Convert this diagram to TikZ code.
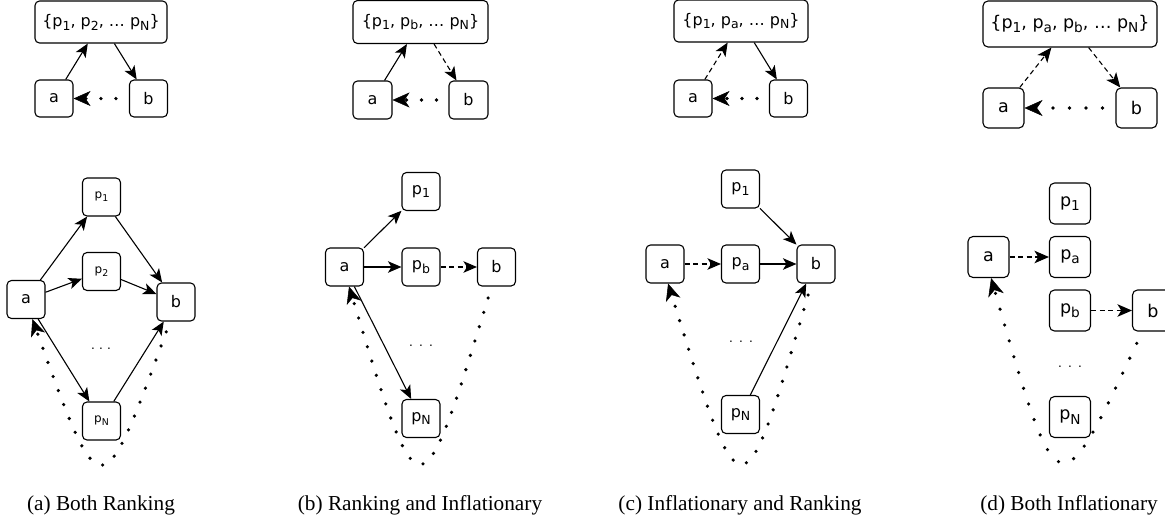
\documentclass[tikz,border=0pt]{standalone}
\usepackage{fontspec}
\setmainfont{Liberation Serif}
\newfontfamily\djv{DejaVu Sans}
\usetikzlibrary{arrows.meta}
% p with a lowered, reduced index
\newcommand\ps[1]{p\raisebox{-0.24em}{\scalebox{0.78}{#1}}}
% three small spaced dots
\newcommand\tdots[1]{.\hspace{#1}.\hspace{#1}.}
\tikzset{
  box/.style={draw, line width=1.1pt, rounded corners=4.5pt, inner sep=0pt,
    minimum width=38pt, minimum height=38pt, font=\djv\fontsize{16}{18}\selectfont},
  setbox/.style={box, minimum width=134pt, minimum height=42pt},
  smallp/.style={font=\djv\fontsize{12}{14}\selectfont},
  link/.style={line width=1.1pt, -{Stealth[length=13.5pt,width=11.5pt,inset=3.5pt]}},
  dashlink/.style={link, dash pattern=on 5pt off 3.5pt},
  dotlink/.style={line width=3.6pt, line cap=round, dash pattern=on 0pt off 15pt,
    -{Stealth[length=17pt,width=15pt,inset=5pt,line width=0.5pt]}},
  ellip/.style={font=\djv\fontsize{12}{12}\selectfont, inner sep=0pt},
  caption/.style={font=\fontsize{21.3}{24}\selectfont, anchor=base, inner sep=0pt}
}
\begin{document}
\begin{tikzpicture}[x=1pt,y=-1pt]
\useasboundingbox (0,0) rectangle (1165,520);

% ---------------- (a) Both Ranking ----------------
\node[setbox, minimum width=132pt] (sA) at (101,22) {\{\ps{1}, \ps{2}, … \ps{N}\}};
\node[box, minimum height=37pt] (aA) at (54,98.5) {a};
\node[box, minimum height=37pt] (bA) at (148.5,98.5) {b};
\draw[link] (aA) -- (sA);
\draw[link] (sA) -- (bA);
\draw[dotlink, shorten <=13pt] (bA.west) -- (aA.east);

\node[box, smallp] (p1A) at (101.5,197) {\ps{1}};
\node[box, smallp] (p2A) at (101.5,271.5) {\ps{2}};
\node[box] (aA2) at (26,299.5) {a};
\node[box] (bA2) at (176,302) {b};
\node[box, smallp] (pNA) at (101.5,421) {\ps{N}};
\node[ellip] (eA) at (101,349) {\tdots{4.2pt}};
\draw[link] (aA2) -- (p1A);
\draw[link] (p1A) -- (bA2);
\draw[link] (aA2) -- (p2A);
\draw[link] (p2A) -- (bA2);
\draw[link] (aA2) -- (pNA);
\draw[link] (pNA) -- (bA2);
\draw[dotlink, shorten <=11pt] (bA2.-107) .. controls (101,510) and (101,510) .. (aA2.-72);
\node[caption] (capA) at (101,510) {(a) Both Ranking};

% ---------------- (b) Ranking and Inflationary ----------------
\node[setbox, minimum width=135pt, minimum height=43pt] (sB) at (420.5,22) {\{\ps{1}, \ps{b}, … \ps{N}\}};
\node[box, minimum width=39pt] (aB) at (372.5,100) {a};
\node[box, minimum width=39pt] (bB) at (468.5,100) {b};
\draw[link] (aB) -- (sB);
\draw[dashlink] (sB) -- (bB);
\draw[dotlink, shorten <=12pt] (bB.west) -- (aB.east);

\node[box] (p1B) at (421,191.5) {\ps{1}};
\node[box] (aB2) at (344.5,267) {a};
\node[box] (pbB) at (421,267) {\ps{b}};
\node[box] (bB2) at (496.5,267) {b};
\node[box] (pNB) at (421,418.5) {\ps{N}};
\node[ellip] (eB) at (421,346) {\tdots{6.2pt}};
\draw[link] (aB2) -- (p1B);
\draw[link] (aB2) -- (pbB);
\draw[dashlink] (pbB) -- (bB2);
\draw[link] (aB2) -- (pNB);
\draw[dotlink, shorten <=12pt] (bB2.-104) .. controls (420,520) and (420,520) .. (aB2.-77);
\node[caption] (capB) at (420,510) {(b) Ranking and Inflationary};

% ---------------- (c) Inflationary and Ranking ----------------
\node[setbox] (sC) at (741,21) {\{\ps{1}, \ps{a}, … \ps{N}\}};
\node[box, minimum height=37pt] (aC) at (693,98.5) {a};
\node[box, minimum height=37pt] (bC) at (788.5,98.5) {b};
\draw[dashlink] (aC) -- (sC);
\draw[link] (sC) -- (bC);
\draw[dotlink, shorten <=12pt] (bC.west) -- (aC.east);

\node[box] (p1C) at (740.5,189) {\ps{1}};
\node[box] (aC2) at (665,264) {a};
\node[box] (paC) at (740.5,264) {\ps{a}};
\node[box] (bC2) at (816,264) {b};
\node[box] (pNC) at (740.5,414.5) {\ps{N}};
\node[ellip] (eC) at (741,342) {\tdots{6.2pt}};
\draw[link] (p1C) -- (bC2);
\draw[dashlink] (aC2) -- (paC);
\draw[link] (paC) -- (bC2);
\draw[link] (pNC) -- (bC2);
\draw[dotlink, shorten <=12pt] (bC2.-103) .. controls (742,521) and (742,521) .. (aC2.-81);
\node[caption] (capC) at (740,510) {(c) Inflationary and Ranking};

% ---------------- (d) Both Inflationary ----------------
\begin{scope}[box/.append style={minimum width=41pt, minimum height=41pt,
    rounded corners=5pt, font=\djv\fontsize{17.5}{20}\selectfont},
  link/.append style={-{Stealth[length=14.5pt,width=12.5pt,inset=3.8pt]}},
  dotlink/.append style={dash pattern=on 0pt off 16.5pt,
    -{Stealth[length=18pt,width=16pt,inset=5.5pt,line width=0.5pt]}}]
\node[setbox, minimum width=174pt, minimum height=46pt] (sD) at (1070,24) {\{\ps{1}, \ps{a}, \ps{b}, … \ps{N}\}};
\node[box, minimum height=40pt] (aD) at (1003.5,108) {a};
\node[box, minimum height=40pt] (bD) at (1136.5,108) {b};
\draw[dashlink] (aD) -- (sD);
\draw[dashlink] (sD) -- (bD);
\draw[dotlink, shorten <=13pt] (bD.west) -- (aD.east);

\node[box] (p1D) at (1070,203.5) {\ps{1}};
\node[box] (aD2) at (988.5,257) {a};
\node[box] (paD) at (1070,257) {\ps{a}};
\node[box] (pbD) at (1070,310.5) {\ps{b}};
\node[box] (bD2) at (1153,310.5) {b};
\node[box] (pND) at (1070,417) {\ps{N}};
\node[ellip] (eD) at (1070,367) {\tdots{6.2pt}};
\draw[dashlink] (aD2) -- (paD);
\draw[dashlink] (pbD) -- (bD2);
\draw[dotlink, shorten <=13pt] (bD2.-117) .. controls (1058,511) and (1058,511) .. (aD2.-83);
\end{scope}
\node[caption] (capD) at (1069,510) {(d) Both Inflationary};
\end{tikzpicture}
\end{document}
